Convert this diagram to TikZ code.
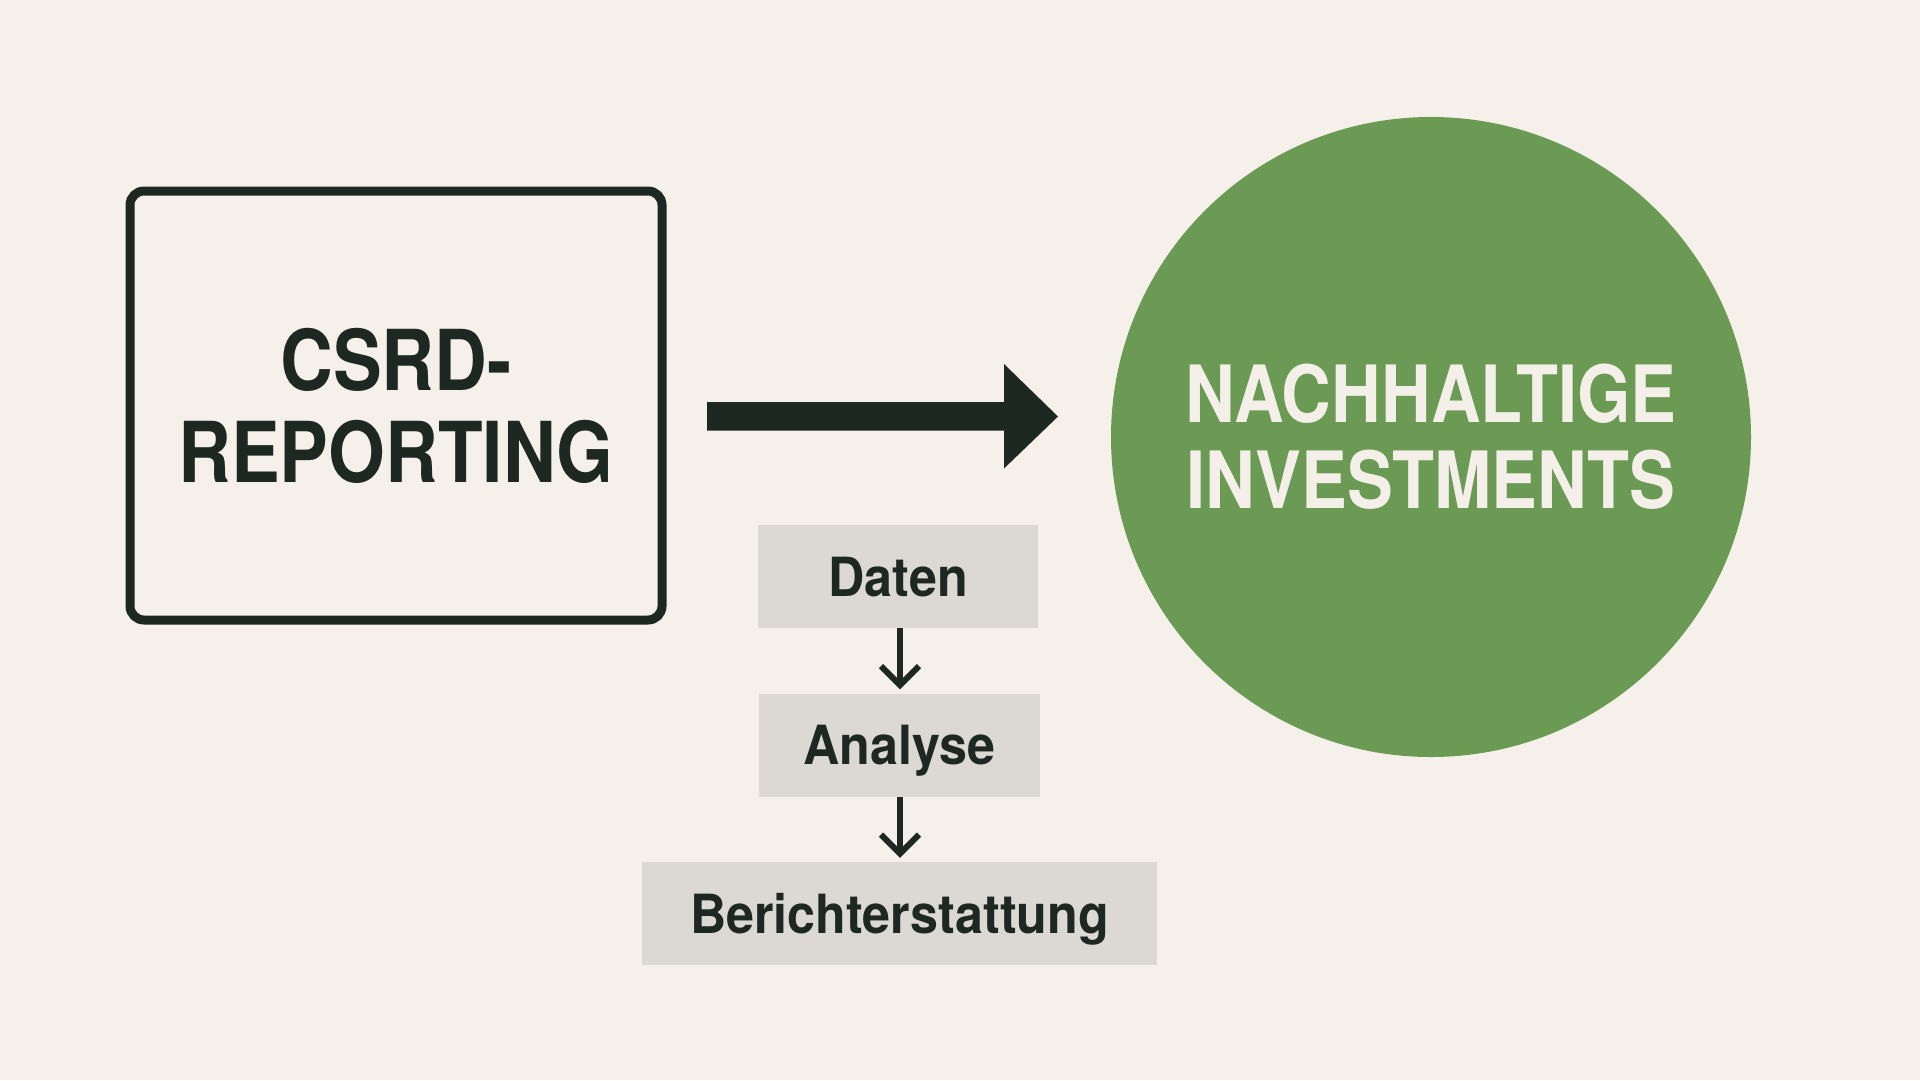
\documentclass[tikz,border=0pt]{standalone}
\usepackage{fontspec}
\usetikzlibrary{arrows.meta}
\newfontfamily\bigfont[FakeStretch=0.87]{TeX Gyre Heros}
\newfontfamily\smallfont[FakeStretch=0.93]{TeX Gyre Heros}
\definecolor{bg}{HTML}{F5F0EA}
\definecolor{ink}{HTML}{1E2823}
\definecolor{leaf}{HTML}{6A9A53}
\definecolor{chip}{HTML}{DCD9D5}
\definecolor{paper}{HTML}{F4F0E9}
\tikzset{
  x=1pt,y=-1pt,
  srcbox/.style={draw=ink,line width=9pt,rounded corners=14pt,minimum width=532pt,minimum height=429pt,inner sep=0pt,align=center,text=ink,font=\bigfont\bfseries\fontsize{84}{98}\selectfont},
  goal/.style={circle,fill=leaf,minimum size=640pt,inner sep=0pt,align=center,text=paper,font=\bigfont\bfseries\fontsize{79}{88}\selectfont},
  stepbox/.style={fill=chip,minimum height=103pt,inner sep=0pt,text height=39pt,text depth=0pt,text=ink,font=\smallfont\bfseries\fontsize{54}{60}\selectfont},
  flow/.style={draw=ink,line width=6pt,-{Straight Barb[length=19pt,width=38pt,line width=6pt]},shorten >=4pt}
}
\begin{document}
\begin{tikzpicture}
\fill[bg] (0,0) rectangle (1920,1080);
\useasboundingbox (0,0) rectangle (1920,1080);
\node[srcbox] (src) at (396,405.5) {CSRD-\\[-6pt]REPORTING};
\node[goal] (inv) at (1431,437) {NACHHALTIGE\\[-2pt]INVESTMENTS};
\node[stepbox,minimum width=280pt] (daten) at (898,576.5) {Daten};
\node[stepbox,minimum width=281pt] (analyse) at (899.5,745) {Analyse};
\node[stepbox,minimum width=515pt] (bericht) at (899.5,913.5) {Berichterstattung};
% big arrow
\coordinate (as) at (707,416.5);
\coordinate (at) at (1058,416.5);
\fill[ink] (as) ++(0,-14.5) -- ++(297,0) -- ++(0,-38) -- (at) -- ++(-54,52) -- ++(0,-38) -- ++(-297,0) -- cycle;
% small arrows
\draw[flow] (daten.south -| 900,0) -- (analyse.north -| 900,0);
\draw[flow] (analyse.south -| 900,0) -- (bericht.north -| 900,0);
\end{tikzpicture}
\end{document}
